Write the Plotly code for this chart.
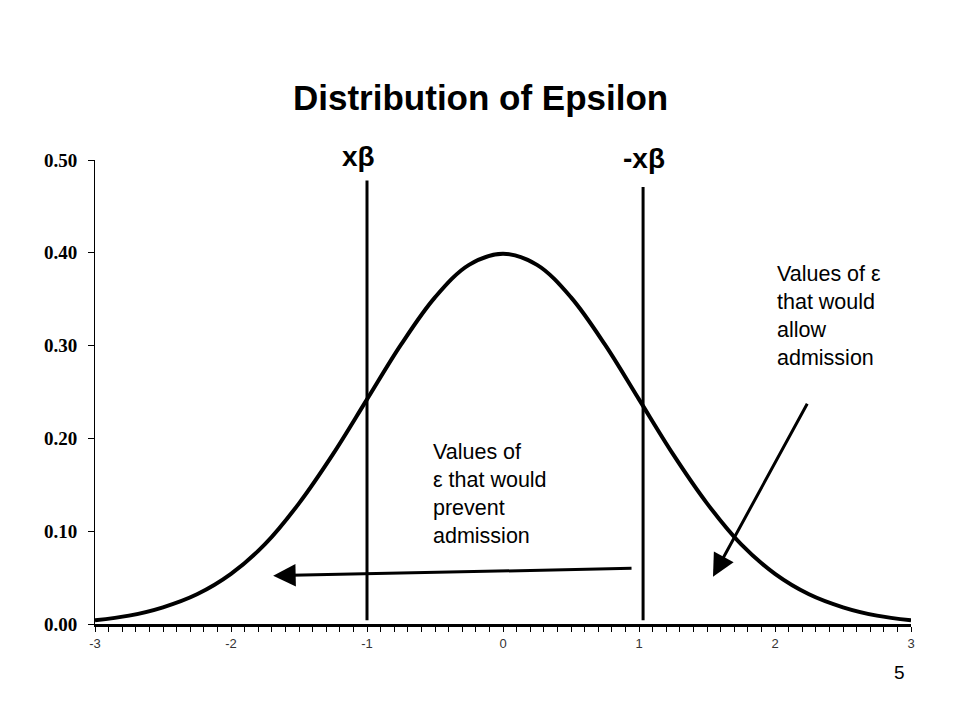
import plotly.graph_objects as go

# Curve values (density of epsilon)
x_vals = [-3.0, -2.75, -2.5, -2.25, -2.0, -1.75, -1.5, -1.25, -1.0, -0.75, -0.5, -0.25,
          0.0, 0.25, 0.5, 0.75, 1.0, 1.25, 1.5, 1.75, 2.0, 2.25, 2.5, 2.75, 3.0]
y_vals = [0.004, 0.009, 0.018, 0.032, 0.054, 0.086, 0.130, 0.183, 0.242, 0.301, 0.352, 0.387,
          0.399, 0.387, 0.352, 0.301, 0.242, 0.183, 0.130, 0.086, 0.054, 0.032, 0.018, 0.009, 0.004]

# Vertical cut-off lines
cut_x = [-1.0, 1.03]
cut_top = [0.478, 0.471]
cut_bottom = [0.004, 0.004]
cut_labels = ["xβ", "-xβ"]

y_tick_vals = [0.0, 0.1, 0.2, 0.3, 0.4, 0.5]
y_tick_text = ["0.00", "0.10", "0.20", "0.30", "0.40", "0.50"]
x_tick_vals = [-3, -2, -1, 0, 1, 2, 3]
x_tick_text = ["-3", "-2", "-1", "0", "1", "2", "3"]

# Arrows: (head x, head y, tail x, tail y)
arrow_prevent = (-1.69, 0.052, 0.956, 0.060)
arrow_allow = (1.544, 0.051, 2.243, 0.239)

# plot area in screen pixels (page has 8px body margin)
L, R, T, B = 95, 911, 160, 624
OFF = 8


def px(xp):
    return (xp - L) / (R - L)


def py(yp):
    return (B - yp) / (B - T)


fig = go.Figure()
fig.add_trace(go.Scatter(x=x_vals, y=y_vals, mode="lines",
                         line=dict(color="black", width=4, shape="spline"),
                         hoverinfo="skip"))
for cx, ct, cb in zip(cut_x, cut_top, cut_bottom):
    fig.add_trace(go.Scatter(x=[cx, cx], y=[cb, ct], mode="lines",
                             line=dict(color="black", width=3), hoverinfo="skip"))

fig.update_layout(
    width=960, height=720,
    paper_bgcolor="white", plot_bgcolor="white",
    showlegend=False,
    margin=dict(l=L - OFF, r=960 - R + OFF, t=T - OFF, b=720 - B + OFF, autoexpand=False),
    font=dict(family="Liberation Sans, Arial", color="black"),
)
fig.update_xaxes(range=[-3, 3], tickvals=x_tick_vals, ticktext=x_tick_text, ticks="outside",
                 ticklen=5, tickwidth=1, tickcolor="black", showgrid=False, zeroline=False,
                 showline=True, linewidth=3, linecolor="black",
                 tickfont=dict(family="Liberation Sans, Arial", size=13, color="#333"),
                 minor=dict(dtick=0.1, ticks="outside", ticklen=5, tickwidth=1, tickcolor="black"))
fig.update_yaxes(range=[0, 0.5], tickvals=y_tick_vals,
                 ticktext=["<b>" + t + "</b>" for t in y_tick_text], ticks="outside", ticklen=6,
                 tickwidth=1, tickcolor="black", showgrid=False, zeroline=False, showline=True,
                 linewidth=1, linecolor="black", ticklabelstandoff=7,
                 tickfont=dict(family="Liberation Serif, Times New Roman", size=19, color="black"))

annotations = [
    dict(x=px(480), y=py(97), xref="paper", yref="paper", text="<b>Distribution of Epsilon</b>",
         showarrow=False, font=dict(size=35, family="Liberation Sans, Arial"),
         xanchor="center", yanchor="middle"),
    dict(x=px(358), y=py(156), xref="paper", yref="paper", text="<b>" + cut_labels[0] + "</b>",
         showarrow=False, font=dict(size=28), xanchor="center", yanchor="middle"),
    dict(x=px(644), y=py(159), xref="paper", yref="paper", text="<b>" + cut_labels[1] + "</b>",
         showarrow=False, font=dict(size=28), xanchor="center", yanchor="middle"),
    dict(x=px(775), y=py(260), xref="paper", yref="paper", xanchor="left", yanchor="top",
         align="left", showarrow=False,
         text="Values of ε<br>that would<br>allow<br>admission", font=dict(size=21.5)),
    dict(x=px(431), y=py(438), xref="paper", yref="paper", xanchor="left", yanchor="top",
         align="left", showarrow=False,
         text="Values of<br>ε that would<br>prevent<br>admission", font=dict(size=21.5)),
    dict(x=arrow_prevent[0], y=arrow_prevent[1], ax=arrow_prevent[2], ay=arrow_prevent[3],
         xref="x", yref="y", axref="x", ayref="y", showarrow=True, arrowhead=2, arrowsize=1.5,
         arrowwidth=3, arrowcolor="black", text=""),
    dict(x=arrow_allow[0], y=arrow_allow[1], ax=arrow_allow[2], ay=arrow_allow[3],
         xref="x", yref="y", axref="x", ayref="y", showarrow=True, arrowhead=2, arrowsize=1.5,
         arrowwidth=3, arrowcolor="black", text=""),
    dict(x=px(899), y=py(672), xref="paper", yref="paper", text="5", showarrow=False,
         font=dict(size=19), yanchor="middle", xanchor="center"),
]
fig.update_layout(annotations=annotations)

fig.write_html("out.html")
